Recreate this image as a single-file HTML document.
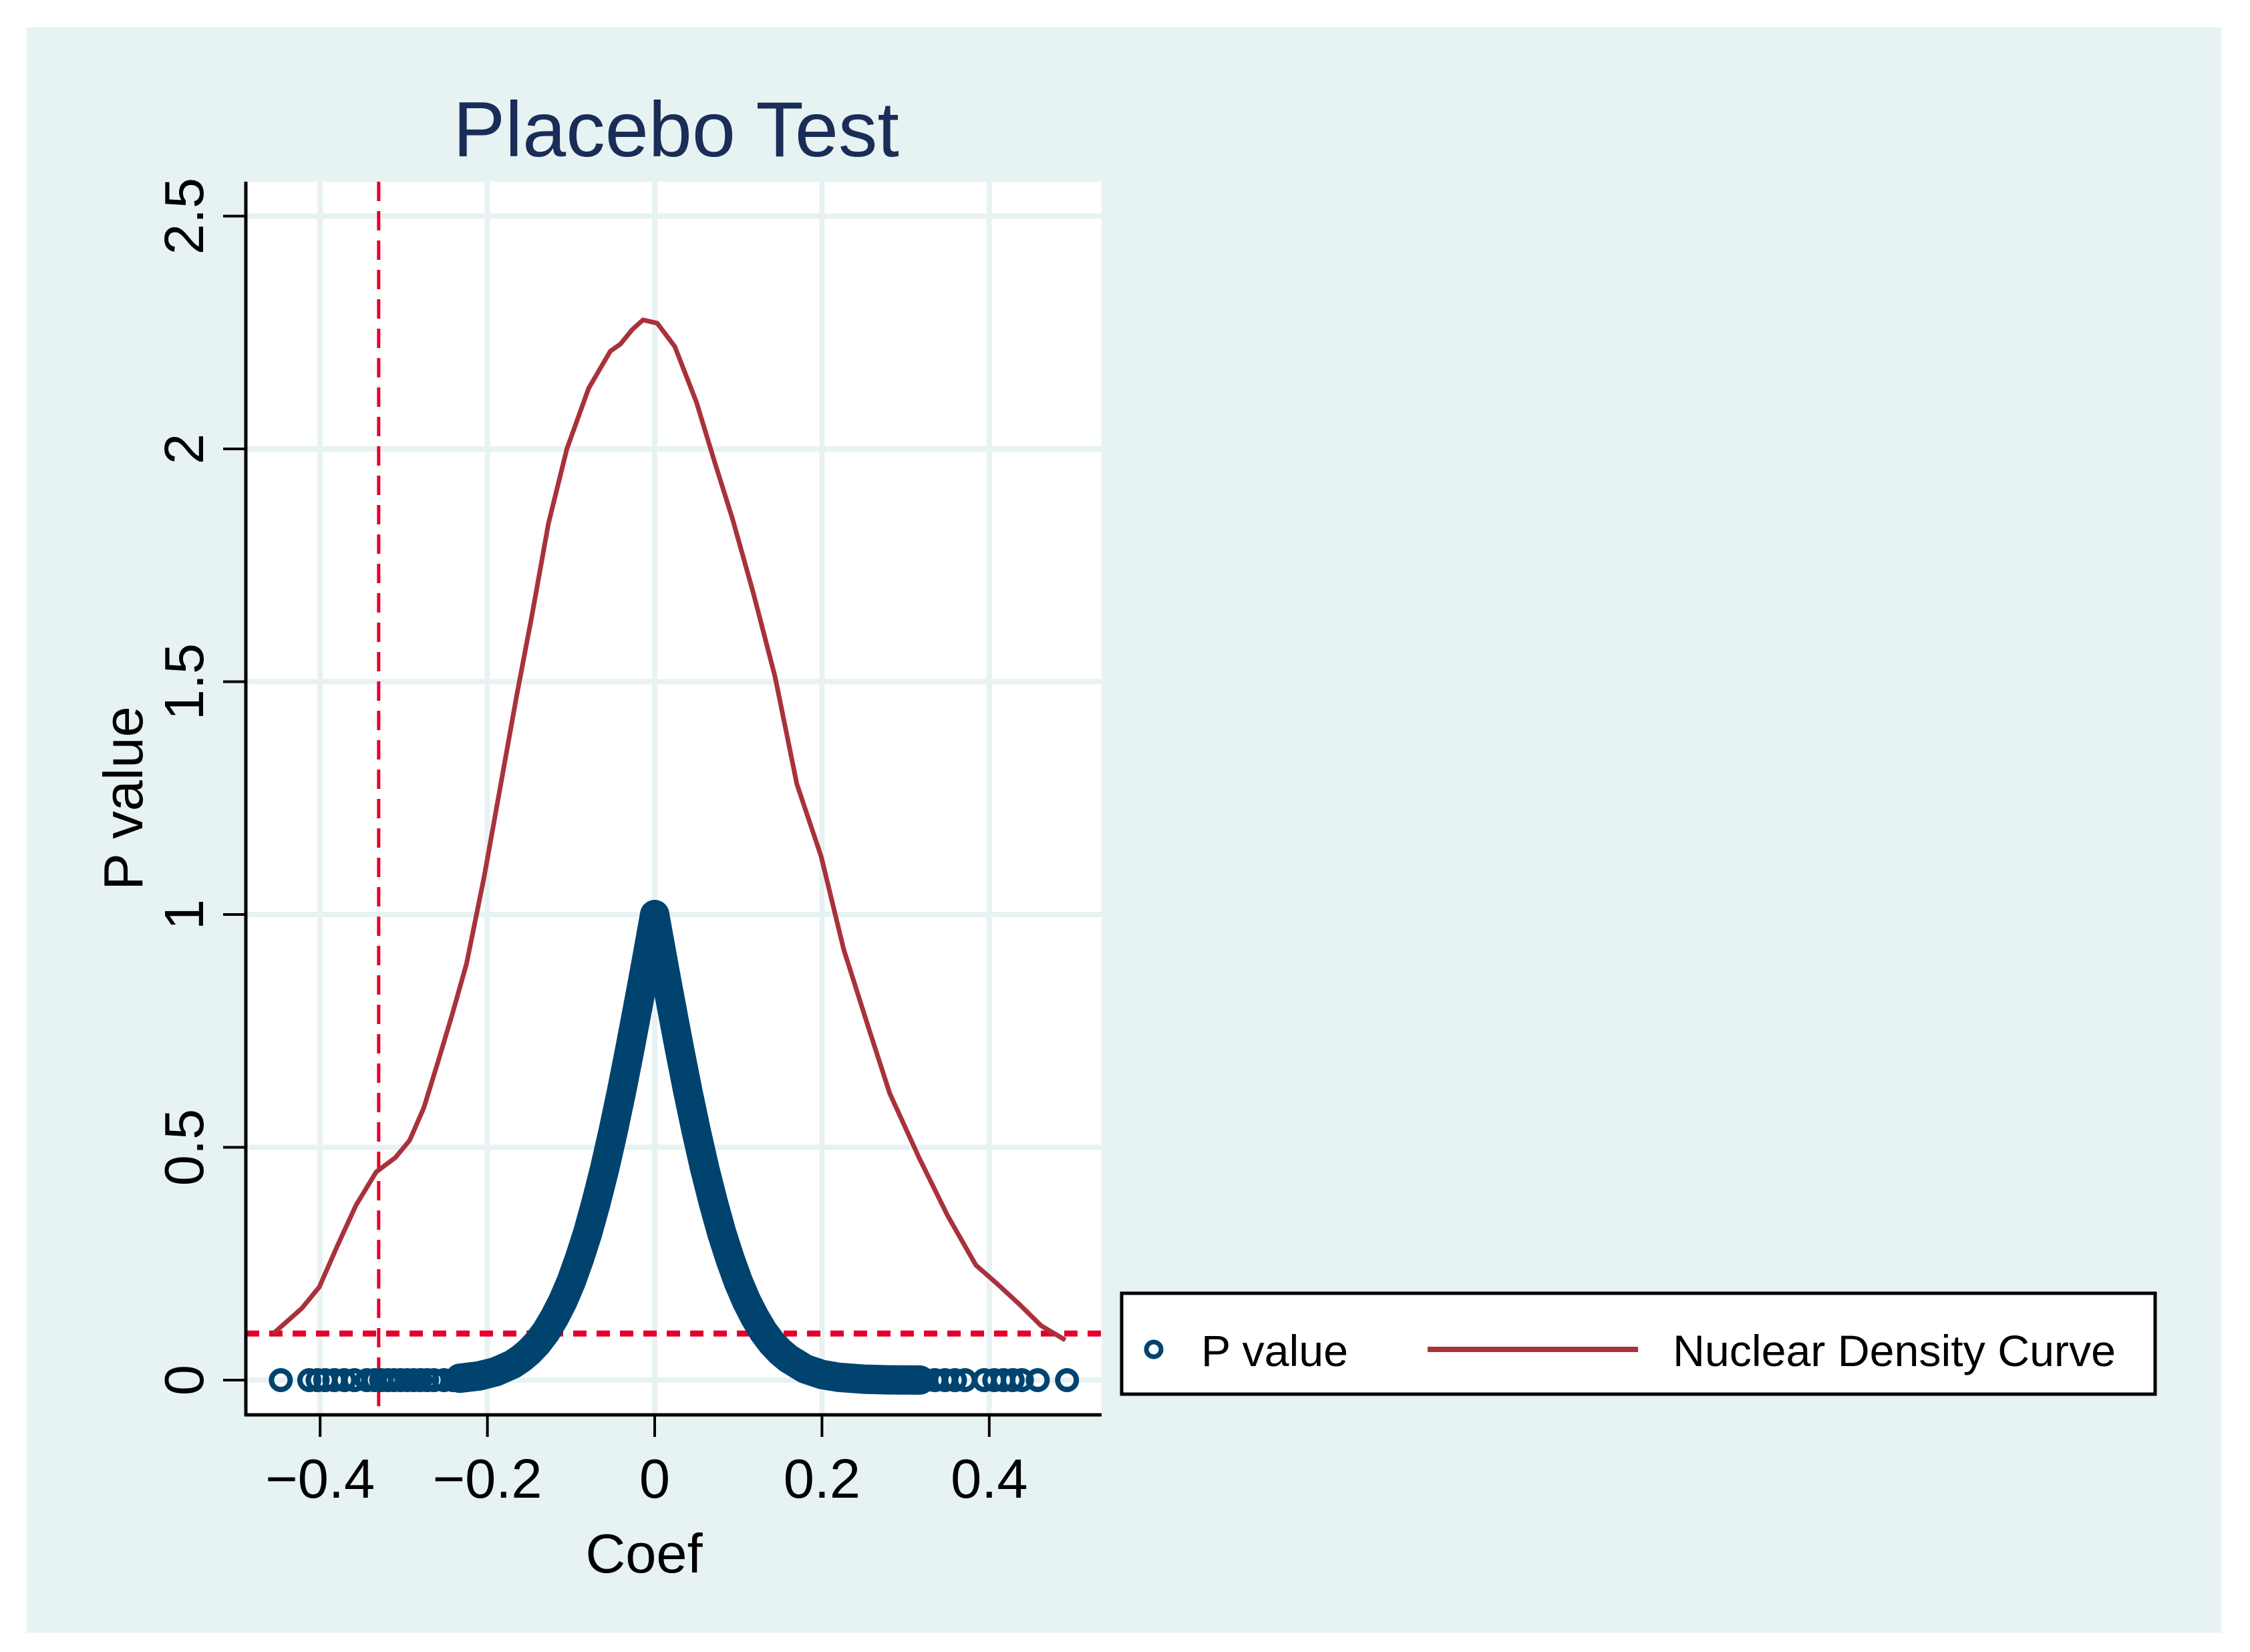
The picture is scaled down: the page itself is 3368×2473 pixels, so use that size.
<!DOCTYPE html>
<html><head><meta charset="utf-8"><style>
html,body{margin:0;padding:0;background:#fff}
svg{display:block}
text{font-family:"Liberation Sans",Arial,sans-serif}
</style></head><body>
<svg id="chart" width="3368" height="2473" viewBox="0 0 3368 2473" xmlns="http://www.w3.org/2000/svg">
<rect x="0" y="0" width="3368" height="2473" fill="#ffffff"/>
<rect x="40" y="41" width="3285" height="2403" fill="#e7f2f2"/>
<rect x="368" y="272" width="1281" height="1846" fill="#ffffff"/>
<g id="grid"></g>
<g id="refs"></g>
<g id="density"></g>
<g id="pvals"></g>
<g id="axes"></g>
<text x="1012" y="234" font-size="117" fill="#1a2d57" text-anchor="middle">Placebo Test</text>
<text transform="translate(213,1195) rotate(-90)" font-size="83" text-anchor="middle" fill="#000">P value</text>
<text x="964" y="2354" font-size="83" text-anchor="middle" fill="#000">Coef</text>
<g>
<rect x="1679" y="1936" width="1547" height="151" fill="#fff" stroke="#000" stroke-width="5"/>
<circle cx="1727" cy="2020" r="11" fill="none" stroke="#00436f" stroke-width="7"/>
<text x="1798" y="2045" font-size="66" fill="#000" textLength="220" lengthAdjust="spacingAndGlyphs">P value</text>
<line x1="2137" y1="2020" x2="2452" y2="2020" stroke="#a8323b" stroke-width="8"/>
<text x="2504" y="2045" font-size="66" fill="#000" textLength="663" lengthAdjust="spacingAndGlyphs">Nuclear Density Curve</text>
</g>
</svg>
<script>
const xTicks = [-0.4, -0.2, 0, 0.2, 0.4];
const xTickLabels = ["\u22120.4", "\u22120.2", "0", "0.2", "0.4"];
const yTicks = [0, 0.5, 1, 1.5, 2, 2.5];
const yTickLabels = ["0", "0.5", "1", "1.5", "2", "2.5"];
const refCoef = -0.33;
const refP = 0.1;
const densityX = [-0.456,-0.422,-0.401,-0.379,-0.357,-0.333,-0.310,-0.293,-0.276,-0.259,-0.242,-0.225,-0.204,-0.185,-0.165,-0.147,-0.127,-0.105,-0.079,-0.053,-0.041,-0.027,-0.014,0.003,0.024,0.050,0.072,0.093,0.118,0.144,0.170,0.199,0.226,0.256,0.281,0.316,0.350,0.384,0.410,0.436,0.462,0.491];
const densityY = [0.10,0.154,0.20,0.29,0.376,0.447,0.478,0.515,0.585,0.684,0.786,0.894,1.08,1.27,1.47,1.64,1.84,2.0,2.13,2.21,2.225,2.256,2.277,2.27,2.22,2.10,1.97,1.85,1.69,1.51,1.28,1.125,0.925,0.755,0.616,0.478,0.354,0.247,0.206,0.163,0.117,0.086];
const coreCoef = [-0.233,-0.21,-0.19,-0.17,-0.16,-0.15,-0.14,-0.13,-0.12,-0.11,-0.10,-0.09,-0.08,-0.07,-0.06,-0.05,-0.04,-0.03,-0.02,-0.015,-0.01,-0.005,0,0.005,0.01,0.015,0.02,0.03,0.04,0.05,0.06,0.07,0.08,0.09,0.10,0.11,0.12,0.13,0.14,0.15,0.16,0.18,0.20,0.22,0.25,0.28,0.317];
const coreP = [0.004,0.009,0.018,0.034,0.046,0.061,0.080,0.104,0.134,0.169,0.211,0.261,0.317,0.382,0.453,0.532,0.617,0.708,0.803,0.851,0.900,0.950,1.0,0.950,0.900,0.851,0.803,0.708,0.617,0.532,0.453,0.382,0.317,0.261,0.211,0.169,0.134,0.104,0.080,0.061,0.046,0.024,0.012,0.006,0.002,0.0005,0.0001];
const tailCoef = [-0.447,-0.413,-0.403,-0.394,-0.383,-0.371,-0.359,-0.344,-0.335,-0.327,-0.319,-0.312,-0.304,-0.296,-0.288,-0.280,-0.272,-0.264,-0.252,-0.241,0.324,0.335,0.347,0.359,0.371,0.394,0.406,0.417,0.428,0.439,0.458,0.493];
const tailP = [0,0,0,0,0,0,0,0,0,0,0,0,0,0,0,0,0,0,0,0,0,0,0,0,0,0,0,0,0,0,0,0];

const NS = "http://www.w3.org/2000/svg";
const X0 = 980, XS = 1252, Y0 = 2066, YS = 697;
const PL = 368, PR = 1649, PT = 272, PB = 2118;
function xScale(c){ return X0 + XS * c; }
function yScale(v){ return Y0 - YS * v; }
function mk(tag, attrs, parent){ const e = document.createElementNS(NS, tag); for (const k in attrs) e.setAttribute(k, attrs[k]); parent.appendChild(e); return e; }

const grid = document.getElementById('grid');
xTicks.forEach(t => {
  const l = mk('line', {x1:xScale(t), x2:xScale(t), y1:PT, y2:PB, stroke:'#e7f2f2', 'stroke-width':8}, grid);
  
  
});
yTicks.forEach(t => {
  const l = mk('line', {x1:PL, x2:PR, y1:yScale(t), y2:yScale(t), stroke:'#e7f2f2', 'stroke-width':8}, grid);
  
  
});

const refs = document.getElementById('refs');
const vr = mk('line', {x1:xScale(refCoef), x2:xScale(refCoef), y1:PT, y2:PB, stroke:'#e4002b', 'stroke-width':5, 'stroke-dasharray':'29 15'}, refs);


const hr = mk('line', {x1:PL, x2:PR, y1:yScale(refP), y2:yScale(refP), stroke:'#e4002b', 'stroke-width':9, 'stroke-dasharray':'20 15'}, refs);



const dens = document.getElementById('density');
const dp = mk('polyline', {points: densityX.map((x,i)=>xScale(x)+','+yScale(densityY[i])).join(' '), fill:'none', stroke:'#a8323b', 'stroke-width':7, 'stroke-linejoin':'round'}, dens);



const pv = document.getElementById('pvals');
const band = mk('polyline', {points: coreCoef.map((x,i)=>xScale(x)+','+yScale(coreP[i])).join(' '), fill:'none', stroke:'#00436f', 'stroke-width':44, 'stroke-linejoin':'round', 'stroke-linecap':'round'}, pv);


coreCoef.forEach((x,i) => {
  const c = mk('circle', {cx:xScale(x), cy:yScale(coreP[i]), r:14, fill:'none', stroke:'#00436f', 'stroke-width':8}, pv);
  
  
});
tailCoef.forEach((x,i) => {
  const c = mk('circle', {cx:xScale(x), cy:yScale(tailP[i]), r:14, fill:'none', stroke:'#00436f', 'stroke-width':8}, pv);
  
  
});

const axes = document.getElementById('axes');
const ya = mk('line', {x1:PL, x2:PL, y1:PT, y2:PB+2, stroke:'#000', 'stroke-width':5}, axes);


const xa = mk('line', {x1:PL-2, x2:PR, y1:PB, y2:PB, stroke:'#000', 'stroke-width':5}, axes);


xTicks.forEach((t,i) => {
  const tk = mk('line', {x1:xScale(t), x2:xScale(t), y1:PB, y2:PB+33, stroke:'#000', 'stroke-width':4}, axes);
  
  
  const tx = mk('text', {x:xScale(t), y:2242, 'font-size':83, 'text-anchor':'middle', fill:'#000'}, axes);
  tx.textContent = xTickLabels[i];
  
  
});
yTicks.forEach((t,i) => {
  const tk = mk('line', {x1:PL-34, x2:PL, y1:yScale(t), y2:yScale(t), stroke:'#000', 'stroke-width':4}, axes);
  
  
  const tx = mk('text', {transform:'translate(304,'+yScale(t)+') rotate(-90)', 'font-size':83, 'text-anchor':'middle', fill:'#000'}, axes);
  tx.textContent = yTickLabels[i];
  
  
});
</script>
</body></html>
